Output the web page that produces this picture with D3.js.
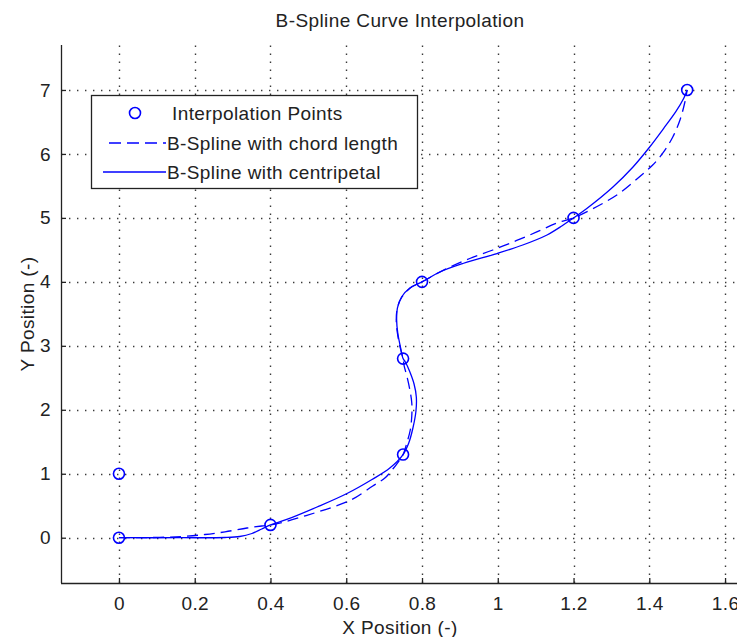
<!DOCTYPE html>
<html>
<head>
<meta charset="utf-8">
<script src="https://cdn.jsdelivr.net/npm/d3@7"></script>
<style>
  html, body { margin: 0; padding: 0; background: #fff; }
  svg { display: block; font-family: "Liberation Sans", Arial, Helvetica, sans-serif; }
  text { letter-spacing: 0.4px; fill: #222; }
</style>
</head>
<body>
<svg id="chart" width="737" height="637"></svg>
<script>
// Interpolation points
const pointX = [0, 0, 0.4, 0.75, 0.75, 0.8, 1.2, 1.5];
const pointY = [0, 1, 0.2, 1.3, 2.8, 4.0, 5.0, 7.0];

// B-spline through the points, chord-length parameterisation
const chordX = [0, 0.108, 0.174, 0.227, 0.280, 0.338, 0.377, 0.4, 0.438, 0.494, 0.557, 0.615, 0.670, 0.702, 0.723, 0.739, 0.75,
  0.760, 0.769, 0.773, 0.773, 0.768, 0.760, 0.753, 0.75, 0.742, 0.735, 0.732, 0.735, 0.747, 0.769, 0.8,
  0.866, 0.926, 0.987, 1.050, 1.103, 1.156, 1.2, 1.262, 1.322, 1.375, 1.409, 1.436, 1.462, 1.481, 1.494, 1.5];
const chordY = [0, 0.005, 0.022, 0.050, 0.092, 0.152, 0.183, 0.2, 0.249, 0.347, 0.464, 0.597, 0.808, 0.933, 1.074, 1.199, 1.3,
  1.481, 1.684, 1.903, 2.106, 2.309, 2.528, 2.684, 2.8, 2.982, 3.200, 3.404, 3.591, 3.763, 3.904, 4.0,
  4.209, 4.365, 4.498, 4.647, 4.780, 4.920, 5.0, 5.178, 5.389, 5.647, 5.827, 6.015, 6.265, 6.531, 6.812, 7.0];

// B-spline through the points, centripetal parameterisation
const centX = [0, 0.161, 0.280, 0.319, 0.351, 0.377, 0.4, 0.443, 0.523, 0.602, 0.668, 0.715, 0.75,
  0.765, 0.776, 0.784, 0.785, 0.779, 0.767, 0.756, 0.75, 0.743, 0.736, 0.733, 0.735, 0.746, 0.768, 0.8,
  0.847, 0.908, 0.998, 1.066, 1.130, 1.169, 1.2, 1.235, 1.304, 1.357, 1.401, 1.438, 1.470, 1.491, 1.5];
const centY = [0, 0, 0.003, 0.019, 0.066, 0.136, 0.2, 0.285, 0.480, 0.691, 0.910, 1.090, 1.3,
  1.481, 1.715, 1.981, 2.200, 2.403, 2.606, 2.747, 2.8, 2.982, 3.200, 3.404, 3.591, 3.763, 3.904, 4.0,
  4.154, 4.287, 4.443, 4.576, 4.733, 4.873, 5.0, 5.147, 5.483, 5.796, 6.108, 6.400, 6.660, 6.870, 7.0];

// Axis ticks
const xTicks = [0, 0.2, 0.4, 0.6, 0.8, 1, 1.2, 1.4, 1.6];
const yTicks = [0, 1, 2, 3, 4, 5, 6, 7];
const xTickLabels = ["0", "0.2", "0.4", "0.6", "0.8", "1", "1.2", "1.4", "1.6"];
const yTickLabels = ["0", "1", "2", "3", "4", "5", "6", "7"];

const legendLabels = ["Interpolation Points", "B-Spline with chord length", "B-Spline with centripetal"];

const W = 737, H = 637;
const plotL = 61, plotR = 744, plotT = 45, plotB = 583;
const blue = "#0000ff";
const fontSize = 19;

const svg = d3.select("#chart");

const x = d3.scaleLinear().domain([-0.153, 1.65]).range([plotL, plotR]);
const y = d3.scaleLinear().domain([-0.708, 7.703]).range([plotB, plotT]);

// dotted grid
const grid = svg.append("g").attr("stroke", "#3a3a3a").attr("stroke-width", 1.4)
  .attr("stroke-dasharray", "1.4,6.6");
grid.selectAll("line.gx").data(xTicks).join("line").attr("class", "gx")
  .attr("x1", d => Math.round(x(d)) + 0.5).attr("x2", d => Math.round(x(d)) + 0.5)
  .attr("y1", plotB).attr("y2", plotT);
grid.selectAll("line.gy").data(yTicks).join("line").attr("class", "gy")
  .attr("y1", d => Math.round(y(d)) + 0.5).attr("y2", d => Math.round(y(d)) + 0.5)
  .attr("x1", plotL).attr("x2", W);

// axes (ticks point inward)
const xAxis = d3.axisBottom(x).tickValues(xTicks).tickSize(-5).tickPadding(14)
  .tickFormat((d, i) => xTickLabels[i]);
const yAxis = d3.axisLeft(y).tickValues(yTicks).tickSize(-5).tickPadding(10)
  .tickFormat((d, i) => yTickLabels[i]);

const gx = svg.append("g").attr("transform", `translate(0,${plotB})`).call(xAxis);
const gy = svg.append("g").attr("transform", `translate(${plotL},0)`).call(yAxis);
[gx, gy].forEach(g => {
  g.select(".domain").attr("stroke", "#222").attr("stroke-width", 1.3);
  g.selectAll(".tick line").attr("stroke", "#222").attr("stroke-width", 1.3);
  g.selectAll(".tick text").attr("font-size", fontSize).attr("fill", "#222")
    .attr("font-family", "Liberation Sans, Arial, sans-serif");
});
gx.select(".domain").attr("d", `M${plotL},0.5H${W}`);
gy.select(".domain").attr("d", `M0.5,${plotB}V${plotT}`);

// curves
const lineGen = d3.line().x(d => x(d[0])).y(d => y(d[1])).curve(d3.curveCatmullRom.alpha(0.5));
const chordPts = chordX.map((v, i) => [v, chordY[i]]);
const centPts = centX.map((v, i) => [v, centY[i]]);

svg.append("path").datum(chordPts).attr("d", lineGen)
  .attr("fill", "none").attr("stroke", blue).attr("stroke-width", 1.3)
  .attr("stroke-dasharray", "11,6");
svg.append("path").datum(centPts).attr("d", lineGen)
  .attr("fill", "none").attr("stroke", blue).attr("stroke-width", 1.3);

// interpolation points
svg.append("g").selectAll("circle").data(pointX.map((v, i) => [v, pointY[i]])).join("circle")
  .attr("cx", d => x(d[0])).attr("cy", d => y(d[1])).attr("r", 5.5)
  .attr("fill", "none").attr("stroke", blue).attr("stroke-width", 1.6);

// title and axis labels
svg.append("text").attr("x", 400).attr("y", 27).attr("text-anchor", "middle")
  .attr("font-size", fontSize).text("B-Spline Curve Interpolation");
svg.append("text").attr("x", 400).attr("y", 634).attr("text-anchor", "middle")
  .attr("font-size", fontSize).text("X Position (-)");
svg.append("text").attr("transform", "translate(34,314) rotate(-90)").attr("text-anchor", "middle")
  .attr("font-size", fontSize).text("Y Position (-)");

// legend
const lg = svg.append("g");
lg.append("rect").attr("x", 91.5).attr("y", 95.5).attr("width", 326).attr("height", 93)
  .attr("fill", "#fff").attr("stroke", "#222").attr("stroke-width", 1.3);
const rowY = [113, 143, 172];
lg.append("circle").attr("cx", 135).attr("cy", rowY[0]).attr("r", 5.5)
  .attr("fill", "none").attr("stroke", blue).attr("stroke-width", 1.6);
lg.append("line").attr("x1", 109).attr("x2", 166).attr("y1", rowY[1]).attr("y2", rowY[1])
  .attr("stroke", blue).attr("stroke-width", 1.3).attr("stroke-dasharray", "12,6");
lg.append("line").attr("x1", 103).attr("x2", 166).attr("y1", rowY[2]).attr("y2", rowY[2])
  .attr("stroke", blue).attr("stroke-width", 1.3);
lg.selectAll("text.lab").data(legendLabels).join("text").attr("class", "lab")
  .attr("x", (d, i) => i === 0 ? 172 : 167).attr("y", (d, i) => rowY[i]).attr("dy", "0.36em")
  .attr("font-size", fontSize).text(d => d);
</script>
</body>
</html>
